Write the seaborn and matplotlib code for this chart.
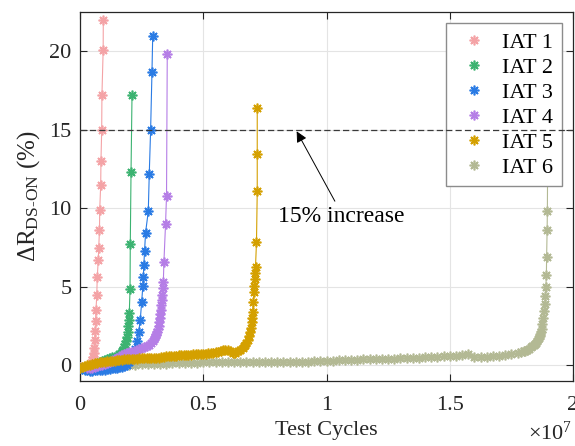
import numpy as np
import pandas as pd
import matplotlib
matplotlib.use("Agg")
import matplotlib.pyplot as plt
from matplotlib.lines import Line2D
import seaborn as sns

# ---- data (x in millions of test cycles, y in % increase of R_DS-ON) ----
iat1_x = [0.00, 0.05, 0.10, 0.15, 0.20, 0.25, 0.30, 0.35, 0.40, 0.45, 0.50, 0.53, 0.56, 0.58,
          0.60, 0.61, 0.63, 0.65, 0.68, 0.70, 0.74, 0.76, 0.79, 0.80, 0.84, 0.85, 0.88, 0.89, 0.94, 0.945]
iat1_y = [-0.1, -0.2, -0.15, -0.2, -0.25, -0.2, -0.15, -0.1, 0.0, 0.15, 0.35, 0.55, 0.8, 1.1,
          1.6, 2.2, 2.8, 3.55, 4.45, 5.6, 6.7, 7.5, 8.6, 9.9, 11.5, 13.0, 14.96, 17.2, 20.1, 22.0]

iat2_x = [0.0, 0.1, 0.2, 0.3, 0.4, 0.5, 0.6, 0.7, 0.8, 0.9, 1.0, 1.1, 1.2, 1.3, 1.4, 1.5, 1.6,
          1.65, 1.7, 1.75, 1.8, 1.84, 1.87, 1.9, 1.93, 1.96, 1.98, 2.0, 2.03, 2.04, 2.07, 2.11]
iat2_y = [-0.2, -0.18, -0.15, -0.12, -0.08, -0.03, 0.03, 0.1, 0.18, 0.28, 0.35, 0.4, 0.45, 0.5, 0.55,
          0.62, 0.72, 0.8, 0.9, 1.0, 1.15, 1.35, 1.55, 1.8, 2.1, 2.5, 2.9, 3.35, 4.85, 7.7, 12.3, 17.2]

iat3_x = [0.0, 0.1, 0.2, 0.3, 0.4, 0.5, 0.6, 0.7, 0.8, 0.9, 1.0, 1.1, 1.2, 1.3, 1.4, 1.5, 1.6,
          1.7, 1.8, 1.9, 2.0, 2.1, 2.17, 2.24, 2.32, 2.38, 2.445, 2.5, 2.55, 2.57, 2.59, 2.62,
          2.66, 2.77, 2.81, 2.865, 2.92, 2.95]
iat3_y = [-0.2, -0.25, -0.3, -0.32, -0.35, -0.35, -0.32, -0.3, -0.3, -0.3, -0.28, -0.25, -0.22,
          -0.2, -0.18, -0.15, -0.12, -0.1, -0.05, 0.05, 0.2, 0.4, 0.65, 1.04, 1.57, 2.1, 2.9,
          4.0, 5.06, 5.65, 6.4, 7.3, 8.45, 9.8, 12.2, 15.0, 18.7, 21.0]

iat4_x = [0.3, 0.4, 0.5, 0.6, 0.7, 0.8, 0.9, 1.0, 1.1, 1.2, 1.3, 1.4, 1.5, 1.6, 1.7, 1.8, 1.9,
          2.0, 2.1, 2.2, 2.3, 2.4, 2.5, 2.6, 2.7, 2.8, 2.9, 2.95, 3.0, 3.04, 3.07, 3.1, 3.13,
          3.16, 3.19, 3.215, 3.24, 3.26, 3.28, 3.30, 3.32, 3.335, 3.36, 3.38, 3.405, 3.47,
          3.51, 3.54]
iat4_y = [-0.2, -0.18, -0.15, -0.1, -0.05, 0.0, 0.05, 0.1, 0.15, 0.22, 0.3, 0.37, 0.45, 0.55,
          0.65, 0.72, 0.78, 0.82, 0.87, 0.93, 0.98, 1.03, 1.08, 1.15, 1.22, 1.3, 1.45, 1.55,
          1.65, 1.78, 1.9, 2.0, 2.15, 2.31, 2.5, 2.73, 3.0, 3.26, 3.55, 3.83, 4.15, 4.49, 4.9,
          5.28, 6.6, 8.98, 10.8, 19.8]

iat5_x = [0.0, 0.1, 0.2, 0.3, 0.4, 0.5, 0.6, 0.7, 0.8, 0.9, 1.0, 1.1, 1.2, 1.3, 1.4, 1.5, 1.6,
          1.7, 1.8, 1.9, 2.0, 2.1, 2.2, 2.3, 2.4, 2.5, 2.6, 2.7, 2.8, 2.9, 3.0, 3.1, 3.2, 3.3,
          3.4, 3.5, 3.6, 3.7, 3.8, 3.9, 4.0, 4.1, 4.2, 4.3, 4.4, 4.5, 4.6, 4.7, 4.8, 4.9, 5.0,
          5.1, 5.2, 5.3, 5.4, 5.5, 5.6, 5.7, 5.8, 5.9, 6.0, 6.1, 6.2, 6.3, 6.4, 6.5, 6.6, 6.65,
          6.7, 6.75, 6.8, 6.85, 6.89, 6.93, 6.96, 6.98, 7.0, 7.03, 7.055, 7.07, 7.09, 7.10,
          7.12, 7.16, 7.19, 7.19, 7.19]
iat5_y = [-0.2, -0.1, -0.05, 0.0, 0.05, 0.1, 0.12, 0.15, 0.18, 0.2, 0.22, 0.25, 0.27, 0.28,
          0.3, 0.32, 0.33, 0.35, 0.37, 0.38, 0.4, 0.4, 0.42, 0.43, 0.45, 0.45, 0.47, 0.45, 0.45,
          0.45, 0.45, 0.47, 0.48, 0.5, 0.52, 0.58, 0.6, 0.6, 0.62, 0.62, 0.63, 0.64, 0.65, 0.66,
          0.67, 0.68, 0.69, 0.7, 0.7, 0.71, 0.73, 0.75, 0.78, 0.8, 0.78, 0.82, 0.85, 0.9, 0.95,
          0.98, 1.0, 0.88, 0.78, 0.8, 0.9, 1.0, 1.1, 1.2, 1.3, 1.45, 1.62, 1.85, 2.1, 2.4, 2.73,
          3.0, 3.37, 4.0, 4.64, 5.06, 5.49, 5.9, 6.27, 7.86, 11.07, 13.45, 16.4]

iat6_x = [0.0, 0.25, 0.5, 0.75, 1.0, 1.25, 1.5, 1.75, 2.0, 2.25, 2.5, 2.75, 3.0, 3.25, 3.5,
          3.75, 4.0, 4.25, 4.5, 4.75, 5.0, 5.25, 5.5, 5.75, 6.0, 6.25, 6.5, 6.75, 7.0, 7.25,
          7.5, 7.75, 8.0, 8.25, 8.5, 8.75, 9.0, 9.25, 9.5, 9.75, 10.0, 10.25, 10.5, 10.75,
          11.0, 11.25, 11.5, 11.75, 12.0, 12.25, 12.5, 12.75, 13.0, 13.25, 13.5, 13.75, 14.0,
          14.25, 14.5, 14.75, 15.0, 15.25, 15.5, 15.75, 16.0, 16.25, 16.5, 16.75, 17.0, 17.25,
          17.5, 17.75, 17.9, 18.0, 18.05, 18.15, 18.2, 18.3, 18.35, 18.4, 18.45, 18.5, 18.55,
          18.58, 18.62, 18.65, 18.68, 18.7, 18.73, 18.76, 18.8, 18.83, 18.86, 18.88, 18.9,
          18.92, 18.93, 18.95, 18.96, 18.97]
iat6_y = [-0.1, -0.08, -0.05, -0.03, 0.0, 0.0, 0.02, 0.03, 0.05, 0.05, 0.07, 0.08, 0.1, 0.1,
          0.1, 0.12, 0.13, 0.15, 0.15, 0.17, 0.18, 0.18, 0.2, 0.2, 0.2, 0.2, 0.2, 0.2, 0.2, 0.2,
          0.2, 0.2, 0.2, 0.2, 0.2, 0.2, 0.2, 0.22, 0.3, 0.3, 0.3, 0.3, 0.32, 0.33, 0.35, 0.35,
          0.37, 0.38, 0.4, 0.4, 0.42, 0.43, 0.45, 0.45, 0.47, 0.48, 0.5, 0.52, 0.55, 0.57, 0.58,
          0.6, 0.65, 0.72, 0.52, 0.52, 0.55, 0.58, 0.62, 0.66, 0.72, 0.8, 0.85, 0.9, 0.93, 1.0,
          1.05, 1.15, 1.22, 1.3, 1.38, 1.45, 1.55, 1.65, 1.75, 1.86, 1.98, 2.1, 2.3, 2.6, 3.03,
          3.45, 3.88, 4.4, 5.0, 5.78, 6.9, 8.6, 9.8, 12.5]

series_labels = ["IAT 1", "IAT 2", "IAT 3", "IAT 4", "IAT 5", "IAT 6"]
series_x = [iat1_x, iat2_x, iat3_x, iat4_x, iat5_x, iat6_x]
series_y = [iat1_y, iat2_y, iat3_y, iat4_y, iat5_y, iat6_y]
colors = ["#f4a3a6", "#3cb371", "#2a7be4", "#b57ee6", "#d4a000", "#b3b994"]

xticks_val = [0, 0.5e7, 1e7, 1.5e7, 2e7]
xtick_labels = ["0", "0.5", "1", "1.5", "2"]
yticks_val = [0, 5, 10, 15, 20]
threshold = 15

# ---- style ----
plt.rcParams["font.family"] = ["Liberation Serif", "DejaVu Serif"]
plt.rcParams["mathtext.fontset"] = "custom"
plt.rcParams["mathtext.rm"] = "Liberation Serif"
plt.rcParams["mathtext.it"] = "Liberation Serif:italic"

fig = plt.figure(figsize=(5.75, 4.46), dpi=100)
ax = fig.add_axes([80 / 575, 1 - 381 / 446, 493 / 575, 369 / 446])

marker = (8, 2, 0)
zorders = [3, 3.1, 3.2, 3.3, 3.5, 2.9]
frames = []
for lab, xs, ys in zip(series_labels, series_x, series_y):
    frames.append(pd.DataFrame({"cycles": np.asarray(xs) * 1e6, "dR": ys, "device": lab}))
df = pd.concat(frames, ignore_index=True)

for lab, c, z in zip(series_labels, colors, zorders):
    sub = df[df["device"] == lab]
    sns.lineplot(data=sub, x="cycles", y="dR", sort=False, estimator=None,
                 color=c, marker=marker, markersize=7, markeredgecolor=c,
                 markeredgewidth=1.2, linewidth=0.8, ax=ax, zorder=z, legend=False)

ax.axhline(threshold, color="#3a3a3a", ls=(0, (5, 2.5)), lw=0.9, zorder=6)

ax.annotate("", xy=(8.79e6, 14.9), xytext=(10.34e6, 10.45),
            arrowprops=dict(arrowstyle="-|>", color="k", lw=0.7, mutation_scale=16,
                            shrinkA=0, shrinkB=0), zorder=7)
ax.text(8.03e6, 9.5, "15% increase", fontsize=17, ha="left", va="center", zorder=7)

ax.set_xlim(0, 2e7)
ax.set_ylim(-1, 22.5)
ax.set_xticks(xticks_val)
ax.set_xticklabels(xtick_labels)
ax.set_yticks(yticks_val)
ax.tick_params(direction="in", top=True, right=True, length=5, width=0.8,
               labelsize=16, colors="#262626")
ax.tick_params(axis="x", pad=11)
ax.tick_params(axis="y", pad=6)
ax.grid(True, color="#e4e4e4", lw=0.8, zorder=0)
ax.set_axisbelow(True)
for sp in ax.spines.values():
    sp.set_color("#262626")
    sp.set_linewidth(0.9)

ax.set_xlabel("Test Cycles", fontsize=16, labelpad=4, color="#262626")
ax.set_ylabel(r"$\Delta\mathrm{R}_{\mathrm{DS‐ON}}$ (%)", fontsize=18, labelpad=5, color="#262626")
fig.text(0.995, 0.003, r"$\times10^{7}$", fontsize=16, ha="right", va="bottom", color="#262626")

handles = [Line2D([], [], ls="none", marker=marker, color=c, markeredgecolor=c,
                  markersize=7, markeredgewidth=1.2) for c in colors]
leg = ax.legend(handles, series_labels, loc="upper right", fontsize=16, frameon=True,
                fancybox=False, framealpha=1, edgecolor="#8c8c8c", borderpad=0.4,
                labelspacing=0.2, handlelength=1.7, handletextpad=0.4, borderaxespad=0.5)
leg.get_frame().set_linewidth(1.0)
leg.set_zorder(5)

fig.savefig("out.png", dpi=100)
